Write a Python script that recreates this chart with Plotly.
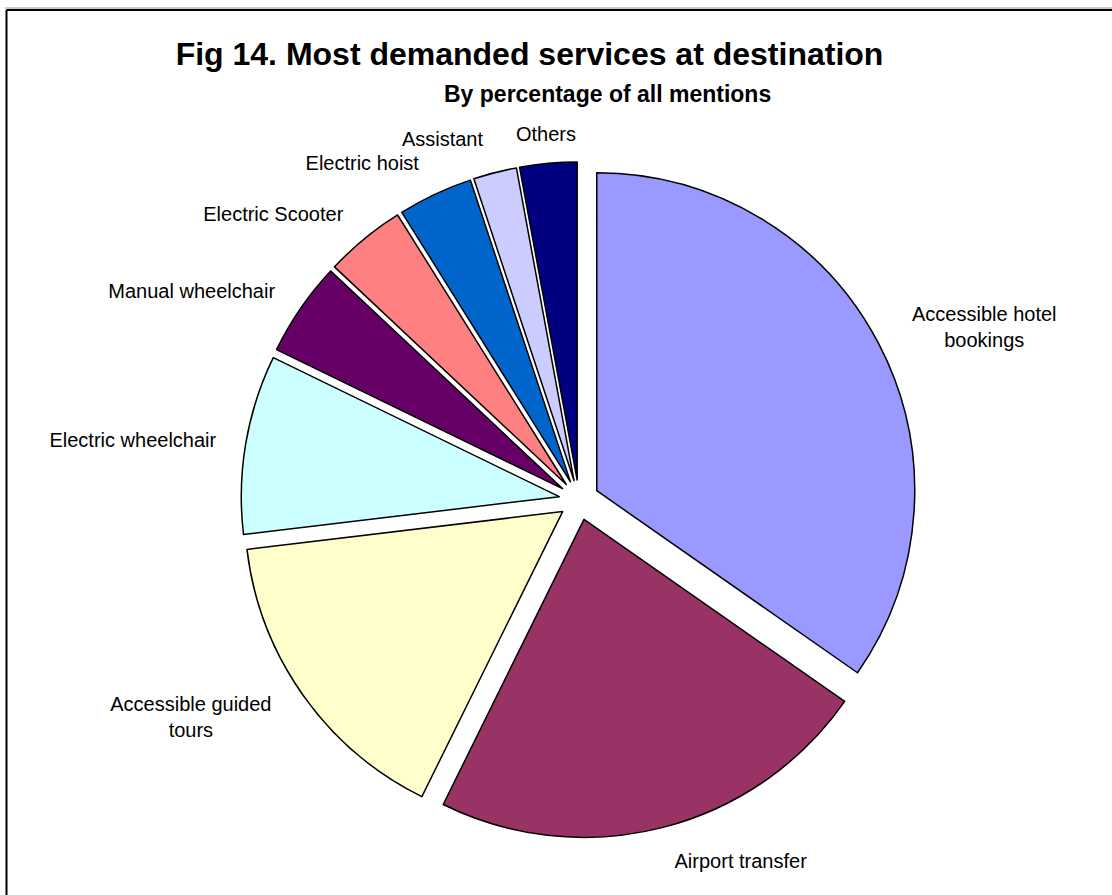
import math
import plotly.graph_objects as go

# Data (percentage of all mentions)
categories = [
    "Accessible hotel bookings",
    "Airport transfer",
    "Accessible guided tours",
    "Electric wheelchair",
    "Manual wheelchair",
    "Electric Scooter",
    "Electric hoist",
    "Assistant",
    "Others",
]
display_labels = [
    "Accessible hotel<br>bookings",
    "Airport transfer",
    "Accessible guided<br>tours",
    "Electric wheelchair",
    "Manual wheelchair",
    "Electric Scooter",
    "Electric hoist",
    "Assistant",
    "Others",
]
values = [34.7, 22.6, 15.8, 9.1, 4.8, 4.1, 3.8, 2.2, 2.9]
colors = ["#9999FF", "#993366", "#FFFFCC", "#CCFFFF", "#660066",
          "#FF8080", "#0066CC", "#CCCCFF", "#000080"]

W, H = 1112, 895
FONT = "Liberation Sans, Arial, sans-serif"
CX = 579 / W
CY_PX = 500          # pie centre (pixels from top)
LABEL_R = 362        # label radius in pixels

n = len(values)

# Visible exploded pie (no text)
fig = go.Figure(go.Pie(
    labels=categories,
    values=values,
    textinfo="none",
    sort=False,
    direction="clockwise",
    rotation=0,
    pull=[0.063] * n,
    marker=dict(colors=colors, line=dict(color="black", width=1.5)),
    domain=dict(x=[CX - 0.34, CX + 0.34], y=[0.0637, 0.8190]),
    showlegend=False,
    hoverinfo="label+percent",
))

# Transparent pie of the same data, used only to place the outside labels
centred = ["Others"]
fig.add_trace(go.Pie(
    labels=categories,
    values=values,
    text=display_labels,
    textinfo="text",
    textposition=["none" if c in centred else "outside" for c in categories],
    sort=False,
    direction="clockwise",
    rotation=0,
    marker=dict(colors=["rgba(0,0,0,0)"] * n, line=dict(width=0)),
    textfont=dict(family=FONT, size=20, color="black"),
    domain=dict(x=[CX - 0.34, CX + 0.34],
                y=[1 - (CY_PX + LABEL_R) / H, 1 - (CY_PX - LABEL_R) / H]),
    showlegend=False,
    hoverinfo="skip",
))

# Labels centred over their slice's mid-angle (computed from the data)
total = sum(values)
annotations = []
cum = 0.0
for cat, lab, v in zip(categories, display_labels, values):
    mid = 2 * math.pi * (cum + v / 2) / total
    cum += v
    if cat in centred:
        r = LABEL_R + 6
        annotations.append(dict(
            text=lab, xref="paper", yref="paper",
            x=CX + r * math.sin(mid) / W,
            y=1 - (CY_PX - r * math.cos(mid)) / H,
            xanchor="center", yanchor="middle", showarrow=False,
            font=dict(family=FONT, size=20, color="black"),
        ))

annotations.append(dict(
    text="<b>By percentage of all mentions</b>",
    xref="paper", yref="paper",
    x=607 / W, y=1 - 94 / H,
    xanchor="center", yanchor="middle",
    showarrow=False,
    font=dict(family=FONT, size=23, color="black"),
))

fig.update_layout(
    width=W, height=H,
    margin=dict(l=0, r=0, t=0, b=0),
    paper_bgcolor="white",
    plot_bgcolor="white",
    title=dict(
        text="<b>Fig 14. Most demanded services at destination</b>",
        x=529.5 / W, xanchor="center",
        y=1 - 54 / H, yanchor="middle",
        font=dict(family=FONT, size=32, color="black"),
    ),
    annotations=annotations,
    shapes=[
        dict(type="line", xref="paper", yref="paper",
             x0=5 / W, x1=1.0, y0=1 - 8 / H, y1=1 - 8 / H,
             line=dict(color="#999999", width=1)),
        dict(type="line", xref="paper", yref="paper",
             x0=6.5 / W, x1=1.0, y0=1 - 10 / H, y1=1 - 10 / H,
             line=dict(color="black", width=2)),
        dict(type="line", xref="paper", yref="paper",
             x0=6.5 / W, x1=6.5 / W, y0=0.0, y1=1 - 10 / H,
             line=dict(color="black", width=2)),
    ],
)

fig.write_html(
    "out.html",
    config={"displayModeBar": False},
    post_script="document.body.style.margin='0';document.body.style.overflow='hidden';",
)
